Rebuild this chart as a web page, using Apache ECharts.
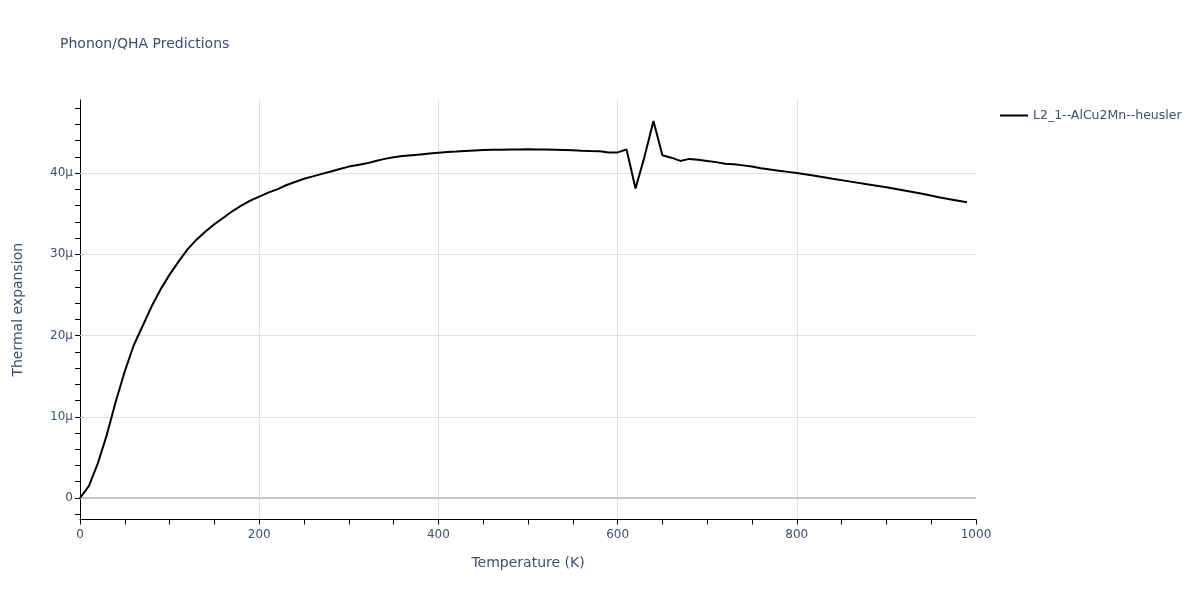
<!DOCTYPE html>
<html>
<head>
<meta charset="utf-8">
<script src="https://cdn.jsdelivr.net/npm/echarts@6/dist/echarts.min.js"></script>
<style>html,body{margin:0;padding:0;background:#fff}#c{width:1200px;height:600px}</style>
</head>
<body>
<div id="c"></div>
<script>
const titleText = 'Phonon/QHA Predictions';
const seriesName = 'L2_1--AlCu2Mn--heusler';
const xName = 'Temperature (K)';
const yName = 'Thermal expansion';
// Temperature (K)
const temps = [0,10,20,30,40,50,60,70,80,90,100,110,120,130,140,150,160,170,180,190,200,210,220,230,240,250,260,270,280,290,300,310,320,330,340,350,360,370,380,390,400,410,420,430,440,450,460,470,480,490,500,510,520,530,540,550,560,570,580,590,600,610,620,630,640,650,660,670,680,690,700,710,720,730,740,750,760,770,780,790,800,820,840,860,880,900,920,940,960,980,990];
// Thermal expansion, in units of 1e-6 (μ)
const expansion = [0,1.5,4.3,7.8,11.9,15.6,18.8,21.2,23.6,25.7,27.5,29.1,30.6,31.8,32.8,33.7,34.5,35.3,36.0,36.6,37.1,37.6,38.0,38.5,38.9,39.3,39.6,39.9,40.2,40.5,40.8,41.0,41.2,41.5,41.75,41.95,42.1,42.2,42.3,42.4,42.5,42.6,42.65,42.72,42.78,42.83,42.86,42.88,42.9,42.92,42.93,42.92,42.9,42.88,42.85,42.8,42.75,42.72,42.7,42.55,42.55,42.9,38.1,42.0,46.4,42.2,41.9,41.5,41.75,41.65,41.5,41.35,41.15,41.1,40.95,40.8,40.6,40.45,40.3,40.15,40.0,39.66,39.3,38.95,38.6,38.25,37.85,37.45,37.0,36.6,36.4];
const yLabelTicks = [0,10,20,30,40];
const yMinorTicks = [-2,0,2,4,6,8,10,12,14,16,18,20,22,24,26,28,30,32,34,36,38,40,42,44,46,48];

const FONT = '"DejaVu Sans", Verdana, sans-serif';
const TXT = '#3b4f6e';
const data = temps.map((t, i) => [t, expansion[i]]);
const yMin = -2.65, yMax = 49.0;

const gridLines = yLabelTicks.map(v => v === 0
  ? {yAxis: v, lineStyle: {color: '#c8c8c8', width: 2}}
  : {yAxis: v, lineStyle: {color: '#e0e0e0', width: 1}});

const chart = echarts.init(document.getElementById('c'), null, {renderer: 'canvas'});
chart.setOption({
  animation: false,
  backgroundColor: '#fff',
  textStyle: {fontFamily: FONT},
  title: {text: titleText, left: 55, top: 32,
    textStyle: {fontFamily: FONT, fontSize: 14, fontWeight: 'normal', color: TXT}},
  legend: {
    left: 995, top: 104, orient: 'vertical',
    itemWidth: 28, itemHeight: 2, itemGap: 5,
    data: [{name: seriesName, icon: 'rect'}],
    textStyle: {fontFamily: FONT, fontSize: 12.5, color: TXT}
  },
  grid: {left: 80, right: 224, top: 100, bottom: 80.5, containLabel: false, show: false},
  xAxis: {
    type: 'value', min: 0, max: 1000, interval: 200,
    name: xName, nameLocation: 'middle', nameGap: 37,
    nameTextStyle: {fontFamily: FONT, fontSize: 14, color: TXT},
    axisLine: {show: true, onZero: false, lineStyle: {color: '#000', width: 1}},
    axisTick: {show: true, length: 5, lineStyle: {color: '#000'}},
    minorTick: {show: true, splitNumber: 4, length: 5, lineStyle: {color: '#000'}},
    axisLabel: {fontFamily: FONT, fontSize: 12, color: TXT, margin: 9, formatter: v => String(v)},
    splitLine: {show: true, showMinLine: false, showMaxLine: false, lineStyle: {color: '#e0e0e0', width: 1}},
    minorSplitLine: {show: false}
  },
  yAxis: [
    {
      type: 'value', min: yMin, max: yMax, position: 'left',
      name: yName, nameLocation: 'middle', nameGap: 55,
      nameTextStyle: {fontFamily: FONT, fontSize: 14, color: TXT},
      axisLine: {show: false},
      axisTick: {show: false},
      axisLabel: {fontFamily: FONT, fontSize: 12, color: TXT, margin: 7,
        customValues: yLabelTicks,
        formatter: v => v === 0 ? '0' : (v + 'μ')},
      splitLine: {show: false}
    },
    {
      type: 'value', min: yMin, max: yMax, position: 'left', offset: 0,
      axisLine: {show: true, onZero: false, lineStyle: {color: '#000', width: 1}},
      axisTick: {show: true, length: 5, customValues: yMinorTicks, lineStyle: {color: '#000'}},
      axisLabel: {show: false},
      splitLine: {show: false}
    }
  ],
  series: [
    {
      name: 'gridlines', type: 'line', data: [], yAxisIndex: 0, z: 1, silent: true,
      markLine: {
        silent: true, symbol: 'none', label: {show: false}, animation: false,
        z: 1,
        lineStyle: {type: 'solid'},
        data: gridLines
      }
    },
    {
      name: seriesName, type: 'line', data: data, yAxisIndex: 0,
      showSymbol: false, symbol: 'none', smooth: false,
      lineStyle: {color: '#000', width: 2}, itemStyle: {color: '#000'},
      z: 10
    }
  ]
});
</script>
</body>
</html>
